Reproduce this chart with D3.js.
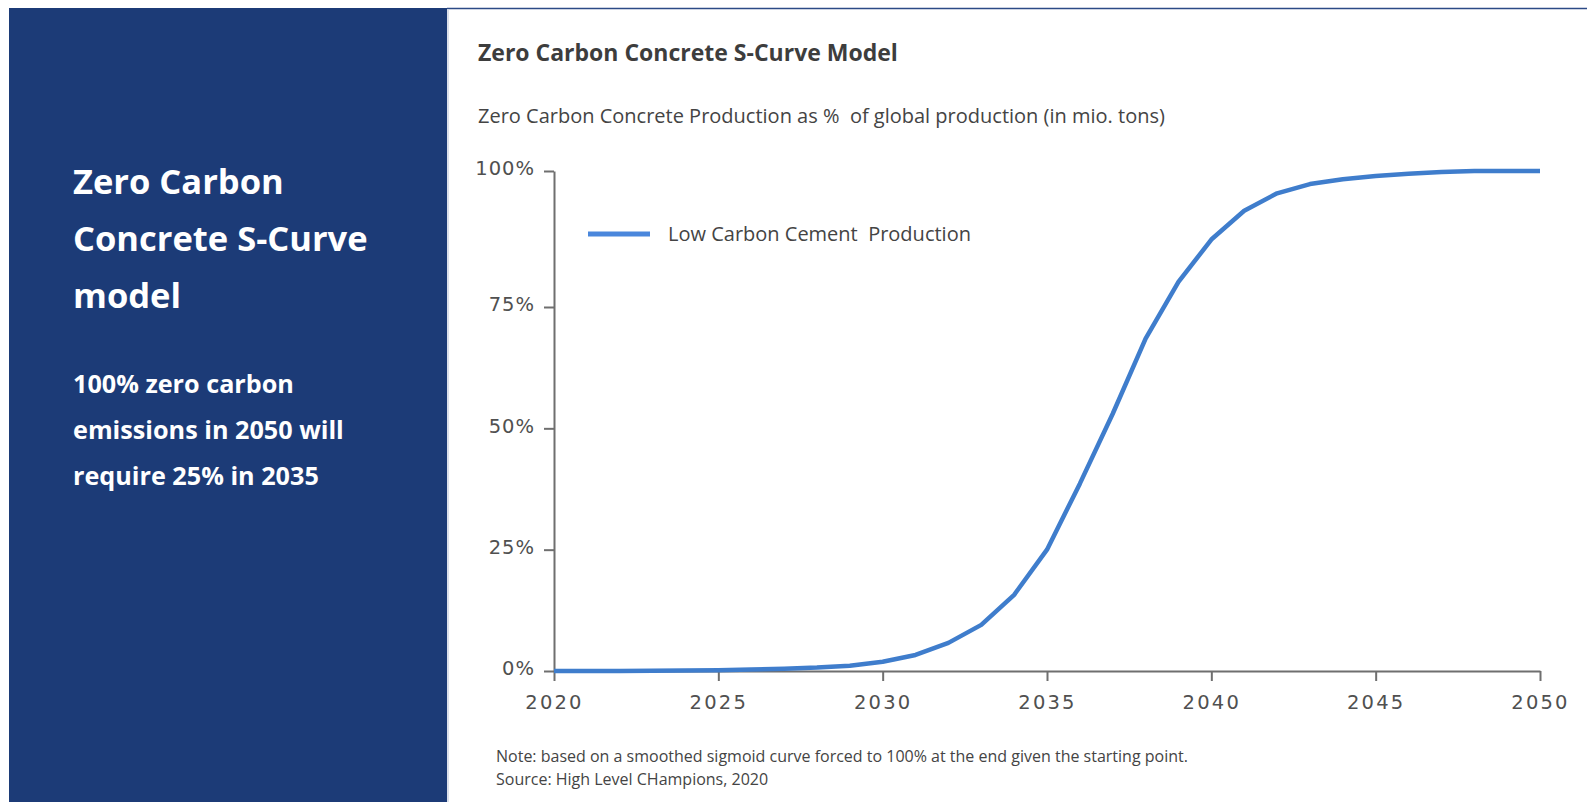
<!DOCTYPE html>
<html>
<head>
<meta charset="utf-8">
<script src="https://cdn.jsdelivr.net/npm/d3@7"></script>
<style>
  html, body { margin: 0; padding: 0; background: #ffffff; }
  svg { display: block; }
  text { white-space: pre; }
</style>
</head>
<body>
<svg id="chart" width="1587" height="802"></svg>
<script>
// Share of global concrete production that is zero carbon, by year (%)
const years = [2020, 2021, 2022, 2023, 2024, 2025, 2026, 2027, 2028, 2029, 2030,
               2031, 2032, 2033, 2034, 2035, 2036, 2037, 2038, 2039, 2040,
               2041, 2042, 2043, 2044, 2045, 2046, 2047, 2048, 2049, 2050];
const shares = [0, 0, 0, 0.05, 0.1, 0.15, 0.3, 0.45, 0.7, 1.1, 1.9,
                3.3, 5.8, 9.5, 15.7, 25, 38.6, 53, 68.5, 79.6, 87.4,
                92.7, 95.9, 97.6, 98.5, 99.1, 99.5, 99.8, 100, 100, 100];
const yTicks = [0, 25, 50, 75, 100];
const xTicks = [2020, 2025, 2030, 2035, 2040, 2045, 2050];

const seriesName = "Low Carbon Cement  Production";
const sideTitle = ["Zero Carbon", "Concrete S-Curve", "model"];
const sideText = ["100% zero carbon", "emissions in 2050 will", "require 25% in 2035"];
const chartTitle = "Zero Carbon Concrete S-Curve Model";
const chartSubtitle = "Zero Carbon Concrete Production as %  of global production (in mio. tons)";
const notes = ["Note: based on a smoothed sigmoid curve forced to 100% at the end given the starting point.",
               "Source: High Level CHampions, 2020"];

const svg = d3.select("#chart");
const NAVY = "#1c3b77";
const TEXT = "#3d3d3d";
const LINE = "#3f7dcc";

// Side panel
svg.append("rect").attr("x", 9).attr("y", 8).attr("width", 438).attr("height", 794).attr("fill", NAVY);
// Card frame on the right
svg.append("line").attr("x1", 447).attr("x2", 1587).attr("y1", 8.5).attr("y2", 8.5)
  .attr("stroke", "#2c4a86").attr("stroke-width", 1.5);
svg.append("line").attr("x1", 448).attr("x2", 448).attr("y1", 9).attr("y2", 802)
  .attr("stroke", "#cfd6e4").attr("stroke-width", 1.5);

const side = svg.append("g").attr("font-family", "'Open Sans', sans-serif").attr("fill", "#ffffff").attr("font-weight", 700);
side.selectAll("text.h").data(sideTitle).join("text").attr("class", "h")
  .attr("x", 73).attr("y", (d, i) => 194 + i * 57)
  .attr("font-size", 34.5).text(d => d);
side.selectAll("text.p").data(sideText).join("text").attr("class", "p")
  .attr("x", 73).attr("y", (d, i) => 393 + i * 46)
  .attr("font-size", 25.2).text(d => d);

// Chart headings
const head = svg.append("g").attr("font-family", "'Open Sans', sans-serif").attr("fill", TEXT);
head.append("text").attr("x", 478).attr("y", 61).attr("font-size", 23).attr("font-weight", 700).text(chartTitle);
head.append("text").attr("x", 478).attr("y", 123).attr("font-size", 20).attr("fill", "#444").text(chartSubtitle);

// Scales: the value axis is stretched a little over its top quarter
const x = d3.scaleLinear().domain([2020, 2050]).range([554, 1540]);
const y = d3.scaleLinear().domain([0, 75, 100]).range([671, 307, 171]);

// Axes
const axisColor = "#6f6f6f";
const yAxis = svg.append("g").attr("transform", `translate(${x(2020)},0)`)
  .call(d3.axisLeft(y).tickValues(yTicks).tickSize(10).tickSizeOuter(0).tickPadding(9)
    .tickFormat(d => d + "%"));
const xAxis = svg.append("g").attr("transform", `translate(0,${y(0)})`)
  .call(d3.axisBottom(x).tickValues(xTicks).tickSize(10).tickSizeOuter(0).tickPadding(14)
    .tickFormat(d3.format("d")));
[yAxis, xAxis].forEach(g => {
  g.select(".domain").attr("stroke", axisColor).attr("stroke-width", 2);
  g.selectAll(".tick line").attr("stroke", axisColor).attr("stroke-width", 2);
  g.selectAll(".tick text").attr("fill", "#505050").attr("font-family", "'DejaVu Sans', sans-serif")
    .attr("font-size", 19.5);
});
xAxis.selectAll(".tick text").attr("letter-spacing", 2.2);
yAxis.selectAll(".tick text").attr("letter-spacing", 1).attr("dy", "0.2em");

// S-curve
const line = d3.line().x((d, i) => x(years[i])).y(d => y(d));
svg.append("path").datum(shares)
  .attr("fill", "none").attr("stroke", LINE).attr("stroke-width", 4.5)
  .attr("stroke-linejoin", "round").attr("d", line);

// Legend
const legend = svg.append("g").attr("transform", "translate(588,234)");
legend.append("line").attr("x1", 0).attr("x2", 62).attr("y1", 0).attr("y2", 0)
  .attr("stroke", "#4a87dc").attr("stroke-width", 5);
legend.append("text").attr("x", 80).attr("y", 0).attr("dy", "0.35em")
  .attr("font-family", "'Open Sans', sans-serif").attr("font-size", 20).attr("fill", "#444")
  .text(seriesName);

// Footnotes
svg.append("g").attr("font-family", "'Open Sans', sans-serif").attr("font-size", 16).attr("fill", "#444")
  .selectAll("text").data(notes).join("text")
  .attr("x", 496).attr("y", (d, i) => 762 + i * 23).text(d => d);
</script>
</body>
</html>
